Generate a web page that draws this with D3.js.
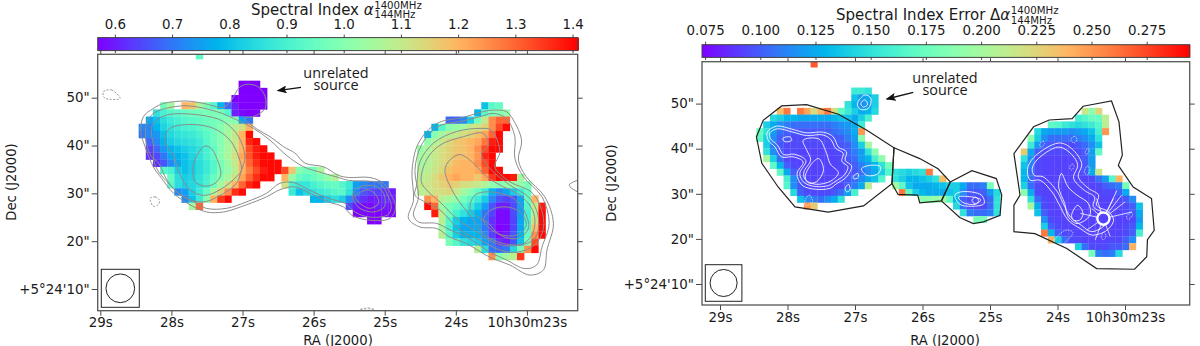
<!DOCTYPE html>
<html>
<head>
<meta charset="utf-8">
<script src="https://cdn.jsdelivr.net/npm/d3@7"></script>
<style>
  html, body { margin: 0; background: #fff; }
  svg { display: block; }
  text { font-family: "DejaVu Sans", sans-serif; fill: #1a1a1a; }
</style>
</head>
<body>
<div id="vis"></div>
<script>
const FRAME_WIDTH = 1200;
const FRAME_HEIGHT = 346;

// map grid: one pixel is 1.5" on the sky, rows are [row, first column, values]
const RA_ORIGIN = 29.063;
const DEC_ORIGIN = 59.56;
const RA_STEP = 0.1004;
const DEC_STEP = 1.5;
const BEAM_ARCSEC = 6;

const RA_TICKS = [29, 28, 27, 26, 25, 24, 23];
const DEC_TICKS = [10, 20, 30, 40, 50];
const INDEX_TICKS = [0.6, 0.7, 0.8, 0.9, 1.0, 1.1, 1.2, 1.3, 1.4];
const ERROR_TICKS = [0.075, 0.1, 0.125, 0.15, 0.175, 0.2, 0.225, 0.25, 0.275];
const INDEX_RANGE = [0.57, 1.409];
const ERROR_RANGE = [0.0736, 0.2945];

const indexRows = [
  [0, 14, [.93]],
  [4, 20, [.57, .57, .57]],
  [5, 20, [.57, .57, .57, .57]],
  [6, 19, [.57, .57, .57, .57, .57]],
  [7, 9, [.97, 1.05, null, 1.2, 1.18, 1.07, .98, .92, .78, .68, .6, .57, .57, .57, .57]],
  [8, 8, [.86, .9, .92, .93, .95, .96, .97, .98, .98, .98, .92, .6, .58, .57, .57]],
  [9, 7, [.76, .8, .85, .88, .9, .92, .93, .94, .96, .97, .98, 1.0, 1.0, .75, .7]],
  [10, 6, [.72, .72, .78, .83, .86, .88, .9, .91, .93, .95, .97, 1.0, 1.04, 1.08, 1.12, 1.2]],
  [11, 6, [.7, .72, .74, .8, .84, .86, .87, .88, .9, .93, .96, 1.0, 1.05, 1.1, 1.2, 1.4]],
  [12, 7, [.68, .72, .78, .82, .84, .85, .86, .88, .92, .96, 1.0, 1.05, 1.1, 1.2, 1.37, 1.4]],
  [13, 7, [.64, .68, .74, .78, .8, .82, .84, .86, .9, .94, 1.0, 1.05, 1.1, 1.2, 1.33, 1.38, 1.4]],
  [14, 7, [.62, .65, .7, .76, .78, .8, .83, .86, .9, .94, 1.0, 1.06, 1.12, 1.22, 1.32, 1.38, 1.4, 1.4]],
  [15, 8, [.62, .66, .72, .76, .8, .82, .85, .88, .92, .98, 1.03, 1.1, 1.2, 1.3, 1.36, 1.4, 1.4, 1.4]],
  [16, 9, [.92, .9, .82, .8, .82, .85, .88, .92, .98, 1.02, 1.08, 1.2, 1.27, 1.33, 1.38, 1.4, 1.4, 1.33, 1.17, 1.0, .97, .97, 1.06]],
  [17, 10, [.95, .85, .82, .83, .86, .9, .95, 1.0, 1.05, 1.12, 1.22, 1.3, 1.36, 1.4, 1.4, null, 1.2, 1.03, .95, .93, .95, .98, 1.02, 1.07]],
  [18, 10, [.93, .85, .82, .84, .86, .9, .96, 1.05, 1.12, 1.2, 1.3, 1.37, 1.4]],
  [18, 26, [1.12, .9, .87, .87, .9, .92, .94, .95, .92, .88, .75, .72, .7, .7, .7]],
  [19, 11, [.72, .75, .82, .88, .95, 1.05, 1.15, 1.25, 1.36, 1.4]],
  [19, 27, [.88, .8, .84, .86, .88, .9, .92, .93, .86, .72, .66, .64, .64, .62, .6]],
  [20, 12, [.72, .8, .88, 1.0, 1.2, 1.35, 1.4]],
  [20, 30, [.78, .78, .82, .85, .82, .72, .65, .62, .6, .6, .62, .6]],
  [21, 13, [1.05, 1.3]],
  [21, 35, [.65, .6, .58, .58, .6, .6, .58]],
  [22, 36, [.57, .58, .57, .57, .58, .57]],
  [23, 38, [.57, .57]],
  [7, 54, [.8, .93, .95]],
  [8, 53, [.78, .93, .98, 1.0, 1.02]],
  [9, 49, [.68, .68, .72, .82, .97, 1.1, 1.25, 1.3, 1.3]],
  [10, 47, [.78, .92, 1.0, 1.03, 1.05, 1.1, 1.12, 1.15, 1.25, 1.33, 1.4]],
  [11, 46, [.78, 1.0, 1.05, 1.08, 1.1, 1.13, 1.15, 1.18, 1.22, 1.3, 1.4]],
  [12, 46, [1.02, 1.06, 1.1, 1.14, 1.17, 1.18, 1.2, 1.22, 1.28, 1.38, 1.4]],
  [13, 45, [1.03, 1.06, 1.1, 1.13, 1.15, 1.17, 1.18, 1.2, 1.25, 1.33, 1.4, 1.4]],
  [14, 45, [1.05, 1.07, 1.1, 1.13, 1.15, 1.18, 1.18, 1.2, 1.24, 1.37, 1.4]],
  [15, 45, [1.05, 1.07, 1.1, 1.13, 1.16, 1.19, 1.2, 1.2, 1.25, 1.33, 1.4]],
  [16, 45, [1.07, 1.08, 1.11, 1.14, 1.18, 1.2, 1.2, 1.2, 1.22, 1.3, 1.4, 1.4]],
  [17, 45, [1.08, 1.1, 1.13, 1.17, 1.2, 1.22, 1.2, 1.2, 1.17, 1.22, 1.35, 1.4, 1.4, 1.38, 1.05]],
  [18, 45, [1.1, 1.11, 1.13, 1.15, 1.17, 1.15, 1.13, 1.12, 1.1, 1.07, 1.02, 1.0, 1.02, 1.03, 1.02, .98]],
  [19, 45, [1.08, 1.1, 1.12, 1.13, 1.14, 1.1, 1.05, 1.0, .95, .88, .78, .72, .76, .82, .88, .95]],
  [20, 46, [1.25, 1.2, 1.08, 1.05, 1.02, .98, .93, .88, .82, .72, .66, .64, .66, .76, .95, 1.2]],
  [21, 46, [1.4, 1.3, 1.03, .98, .95, .92, .88, .82, .75, .66, .6, .6, .65, .75, .92, 1.1, 1.38]],
  [22, 47, [1.38, 1.08, .97, .9, .86, .82, .78, .7, .64, .58, .58, .65, .75, .9, 1.08, 1.4]],
  [23, 48, [1.08, .92, .82, .78, .76, .76, .7, .62, .58, .58, .64, .76, .9, 1.12, 1.4]],
  [24, 48, [1.05, .9, .8, .76, .76, .76, .7, .62, .57, .58, .64, .76, .92, 1.18, 1.4]],
  [25, 48, [1.08, .92, .82, .78, .78, .78, .72, .64, .58, .6, .66, .78, .95, 1.25, 1.4]],
  [26, 49, [.98, .92, .86, .84, .82, .75, .7, .62, .6, .66, .8, .98, 1.33]],
  [27, 53, [1.08, .85, .7, .68, .7, .84, .98, 1.25, 1.4]],
  [28, 55, [1.25, 1.0, 1.05, 1.08, 1.35]]
];

const errorRows = [
  [0, 14, [.27]],
  [4, 20, [.155, .155, .15]],
  [5, 20, [.135, .12, .125, .14]],
  [6, 19, [.15, .13, .115, .12, .14]],
  [7, 9, [.235, .26, null, .26, .245, .22, .24, .26, .22, .17, .155, .14, .125, .13, .145]],
  [8, 8, [.145, .14, .13, .13, .125, .125, .125, .125, .125, .13, .135, .135, .125, .14, .16]],
  [9, 7, [.14, .125, .115, .11, .105, .105, .105, .105, .105, .105, .11, .115, .12, .125, .155]],
  [10, 6, [.175, .15, .12, .105, .1, .098, .098, .098, .098, .098, .1, .105, .11, .115, .125, .25]],
  [11, 6, [.17, .14, .115, .1, .098, .094, .094, .094, .094, .094, .094, .098, .1, .11, .12, .19]],
  [12, 7, [.14, .11, .098, .094, .094, .094, .094, .094, .094, .094, .094, .098, .1, .115, .14, .2]],
  [13, 7, [.15, .115, .098, .094, .094, .092, .092, .092, .092, .092, .094, .094, .1, .11, .12, .15, .19]],
  [14, 7, [.2, .14, .105, .094, .092, .092, .092, .092, .092, .092, .092, .094, .098, .105, .12, .13, .16, .19]],
  [15, 8, [.17, .13, .1, .094, .092, .092, .092, .092, .092, .092, .094, .094, .1, .11, .12, .13, .15, .18]],
  [16, 9, [.17, .125, .1, .094, .092, .092, .092, .092, .092, .092, .094, .098, .105, .115, .125, .14, .165, .15, .145, .14, .145, .15, .26]],
  [17, 10, [.16, .115, .098, .094, .092, .092, .092, .092, .094, .098, .105, .115, .125, .135, .165, null, .15, .14, .13, .13, .135, .14, .15, .235]],
  [18, 10, [.165, .115, .098, .094, .092, .092, .092, .094, .094, .1, .11, .125, .21]],
  [18, 26, [.2, .17, .135, .125, .125, .125, .13, .135, .14, .14, .125, .105, .105, .11, .18]],
  [19, 11, [.145, .1, .094, .094, .094, .094, .098, .105, .12, .16]],
  [19, 27, [.26, .17, .14, .13, .125, .125, .125, .135, .14, .115, .098, .098, .1, .12, .145]],
  [20, 12, [.135, .115, .11, .105, .115, .125, .15]],
  [20, 30, [.19, .19, .195, .2, .17, .13, .1, .094, .094, .094, .105, .15]],
  [21, 13, [.25, .23]],
  [21, 35, [.145, .105, .094, .094, .094, .105, .15]],
  [22, 36, [.15, .11, .105, .105, .11, .15]],
  [23, 38, [.18, .18]],
  [7, 54, [.215, .19, .225]],
  [8, 53, [.16, .165, .175, .175, .21]],
  [9, 49, [.17, .165, .155, .15, .145, .15, .155, .165, .21]],
  [10, 47, [.145, .125, .12, .12, .12, .115, .12, .125, .135, .16, .25]],
  [11, 46, [.19, .14, .115, .105, .105, .105, .105, .11, .115, .125, .15]],
  [12, 46, [.155, .12, .1, .098, .094, .094, .094, .098, .105, .115, .135]],
  [13, 45, [.23, .125, .1, .094, .094, .094, .094, .094, .094, .1, .12, .17]],
  [14, 45, [.15, .115, .094, .092, .092, .092, .092, .092, .094, .1, .12]],
  [15, 45, [.135, .11, .094, .092, .092, .092, .092, .092, .092, .098, .12]],
  [16, 45, [.13, .105, .094, .092, .092, .092, .092, .092, .092, .098, .125, .215]],
  [17, 45, [.13, .105, .094, .092, .092, .092, .092, .092, .092, .092, .094, .105, .12, .165, .24]],
  [18, 45, [.14, .105, .094, .092, .092, .092, .092, .092, .092, .092, .092, .094, .1, .105, .11, .18]],
  [19, 45, [.19, .125, .094, .092, .092, .092, .092, .092, .092, .092, .092, .092, .094, .094, .1, .125]],
  [20, 46, [.15, .105, .094, .092, .092, .092, .092, .092, .092, .092, .092, .092, .092, .094, .098, .115]],
  [21, 46, [.2, .125, .094, .092, .092, .092, .092, .092, .092, .092, .092, .092, .092, .092, .094, .1, .135]],
  [22, 47, [.135, .1, .092, .092, .092, .092, .092, .092, .092, .092, .092, .092, .092, .094, .098, .125]],
  [23, 48, [.115, .094, .092, .092, .092, .092, .092, .092, .092, .092, .092, .092, .092, .094, .12]],
  [24, 48, [.14, .1, .094, .092, .092, .092, .092, .092, .092, .092, .092, .092, .094, .098, .13]],
  [25, 48, [.26, .13, .1, .094, .094, .092, .092, .092, .092, .092, .092, .092, .094, .1, .16]],
  [26, 49, [.24, .14, .105, .094, .094, .092, .092, .092, .092, .094, .094, .1, .115]],
  [27, 53, [.14, .105, .094, .094, .094, .098, .098, .105, .24]],
  [28, 55, [.18, .11, .105, .11, .145]]
];

// contours, given as [column, row] on the same map grid
const grayContours = [
  [[8.05,7.87],[6.66,9.03],[6.3,11.12],[6.9,13.2],[8.05,16],[9.2,17.6],[10.9,19.7],[13.2,21.3],[15.5,22.3],[17.9,22.3],[21.1,21.3],[23.9,20.2],[25.8,19.2],[27.9,18.8],[30,19.7],[32.6,20.9],[34.7,21.6],[35.8,22.7],[37.9,23.4],[41.2,23.2],[42,21.6],[41.4,20],[40.3,18.3],[38.4,17.5],[35.4,17.5],[34,17.2],[31.9,16],[29.3,15.5],[27.9,14.1],[26.3,13.2],[24.4,11.8],[22.5,10.7],[20.9,9.26],[22.1,9],[23.7,7.9],[23.7,6.2],[22.8,4.9],[21.4,4.5],[20.2,4.85],[19,6.7],[17.9,7.7],[15.1,7.17],[12.7,6.84],[9.5,7.17]],
  [[7.1,10],[7.8,8.8],[9,8.1],[12.7,7.5],[16.9,8.3],[19.3,9.26],[22.1,10.65],[24.4,12.3],[26.7,14.4],[29.1,16],[31.9,16.9],[34,17.5],[35.4,17.9],[38.2,18],[39.8,18.3],[40.9,20],[41.4,21.6],[40.9,22.7],[38.2,23],[36.3,22.3],[34.9,21.1],[32.6,20.4],[30,19.3],[27.7,18.2],[25.8,18.3],[23.9,19.7],[21.1,20.9],[18.3,21.8],[15.5,21.8],[13.7,20.9],[11.3,19.5],[9.7,17.4],[8.8,15.5],[7.8,14.6],[7,12.3]],
  [[7.8,11.35],[8,10],[9.9,8.8],[14.6,8.8],[17.9,9.7],[20,11.8],[20.9,14.6],[20.4,16.5],[19.7,18.3],[17.9,19.7],[15.1,20.9],[12.3,20.2],[10.2,18.3],[8.8,16.7],[8.1,15.1],[8.1,13.2]],
  [[9.7,11.8],[10.4,10.65],[13.2,10.1],[16.5,10.65],[18.8,12.3],[20,14.6],[20.4,16.5],[19.7,17.4],[17.4,19.2],[15.1,20],[13.2,19.2],[11.6,16.7],[10.9,14.4],[9.9,13]],
  [[13.66,15.75],[14.35,14.1],[15.3,13.1],[16.2,13.5],[17.2,15.5],[17.5,17.15],[16.7,18.3],[15.3,18.7],[13.9,18.1],[13.6,16.9]],
  [[36.1,19.5],[37,18.8],[39.1,18.7],[40.3,19.7],[40.4,21.6],[38.9,22.3],[37,21.8],[36.1,20.65]],
  [[36.8,19.7],[38.2,19.2],[39.3,20],[39.6,21.1],[38.4,21.8],[37,21.1],[36.3,20.2]],
  [[55.7,8.1],[57.5,8.3],[58.5,9.5],[59.65,12.3],[59.2,15.07],[60.3,17.4],[62.9,20.2],[64.1,23.9],[63.2,27.6],[62.7,30.4],[60.8,31.1],[58,29.7],[55.2,28.6],[51.9,26.7],[49.6,25.8],[47.75,24.6],[45.4,24.4],[43.8,23.2],[44.5,20.65],[44.3,16.5],[45.2,12.7],[47.7,10],[51.5,9.1],[54.3,8.3]],
  [[55.7,8.56],[57.5,9.26],[58.7,11.8],[58.7,14.8],[59.9,17.4],[62.5,20.2],[63.5,23.9],[62.5,27.2],[61.75,29.7],[60.1,30.2],[57.55,29],[55.2,27.9],[51.95,25.8],[49.6,24.8],[47.75,23.9],[45.2,23.7],[44.5,22.7],[45.2,20.2],[44.7,16.5],[45.6,13],[47.97,10.4],[51.5,9.6],[53.8,9.02]],
  [[44.95,18.56],[45.4,15.3],[47.3,12.7],[50.5,11.1],[53.8,10.65],[55.4,10.9],[56.6,13.9],[55.9,16],[58,18.1],[61,19.5],[62.4,21.8],[62.7,24.6],[61.5,26.9],[59,27.9],[56.6,27.6],[53.8,26.2],[51,24.8],[48.2,22],[46.1,20.9],[44.7,19.95]],
  [[45.6,18.1],[46.3,15.07],[48.2,13],[51.5,11.8],[54.3,11.35],[55,13],[54.05,14.1],[55,16],[58,18.56],[60.8,20.4],[62,23.2],[61.5,26],[59,27],[56.1,26.7],[53.35,25.07],[50.55,23.2],[48.2,20.9],[46.6,19.5]],
  [[48.9,16.47],[49.6,15.07],[51,14.3],[52.9,15.5],[54.75,17.4],[57.1,18.8],[59.4,19.95],[61.3,22.3],[61.3,25.07],[59.9,26.7],[57.1,26.7],[54.5,25.5],[52.4,22.74],[50.3,19.95]],
  [[52.4,21.8],[53.1,19.95],[55.2,19.5],[58.5,20.4],[60.1,22.3],[60.6,24.6],[59,26],[56.6,25.5],[55,23.9],[53.1,22.74]],
  [[54.3,23.4],[55.4,22],[57.5,21.6],[59.4,22.3],[60.3,24.1],[59,25.5],[56.85,25.5],[55.2,24.6]],
  [[66.3,18.56],[68.5,17.8],[68.5,19.8]]
];

const grayDashed = [
  [[1.05,5.54],[2.2,5.3],[3.4,6.47],[2,6.6],[1.15,6.33]],
  [[7.6,20.4],[8.3,20.2],[8.9,20.64],[8.76,21.3],[8.06,21.5],[7.7,20.9]],
  [[37,35.9],[38.2,35.7],[39,35.9],[38.2,36]]
];

const regionOutlines = [
  [[9.73,6.72],[13.4,6.52],[18.1,7.95],[22.3,10.3],[26.3,12.9],[26,18.2],[21.8,21.5],[16.6,22.4],[11.7,21.65],[9.2,18.7],[6.8,15.2],[6,11.3],[7,8.84]],
  [[26.3,12.9],[30.1,14.5],[32.8,16],[34.6,17.95],[33.3,20.76],[30.1,21.05],[29.8,19.9],[26.9,19.8],[26,18.2]],
  [[34.6,17.95],[37.8,16.3],[41.4,17.46],[42.2,19.9],[41.95,22.9],[39.5,23.86],[38,24.1],[36,23.2],[33.3,20.76]],
  [[54.2,6.77],[58.4,5.98],[59.5,9.08],[60,14],[59.4,15.5],[61.6,18.7],[64.3,20.4],[64.7,25.1],[63.7,26.5],[63.6,29],[61.8,30.86],[56.2,30.76],[51.8,27.8],[47.1,25.6],[44,25.3],[44,21.4],[44.9,19.9],[44,13.76],[46.9,9.8],[49.2,8.8],[52.6,8.6]]
];

const whiteContours = [
  [[7.6,10.6],[9,9.7],[11.4,10.2],[13.4,10.7],[15.9,10.6],[17.35,11.3],[18.1,12.8],[19.3,13.5],[19.1,14.75],[20.05,15.6],[19.3,17.2],[17.85,18.2],[16.85,18.9],[14.4,19],[12.7,18.4],[12,16.7],[12.9,15],[11.45,14.25],[9.7,14.25],[8.75,12.8],[7.75,11.8]],
  [[8,10.7],[9.1,10.1],[11.4,10.6],[13.4,11.1],[15.8,11],[17,11.7],[17.7,13],[18.8,13.7],[18.6,14.9],[19.5,15.7],[19,16.9],[17.6,17.9],[16.6,18.5],[14.5,18.6],[13,18],[12.4,16.7],[13.3,14.8],[11.6,13.85],[10,13.9],[9.1,12.5],[8.1,11.6]],
  [[12.9,11.8],[15.2,11.6],[16.2,13.3],[16.9,15.3],[18.1,16.6],[17,17.8],[14.8,18.3],[13.2,17.6],[13,16.5],[14,14.7],[13.4,13.2]],
  [[13.2,17.2],[14.2,15.2],[15.2,14.5],[15.9,16.2],[14.9,17.9],[13.7,18.1]],
  [[9.9,11.5],[11,11.3],[11.2,11.8],[10.2,12]],
  [[21.5,16],[22.8,15.5],[24.3,15.7],[24,16.7],[22.3,17]],
  [[20.3,17.1],[21,16.7],[21,17.3],[20.4,17.5]],
  [[19.1,18.9],[19.6,18.3],[19.8,19.2],[19.3,19.4]],
  [[20.9,6.4],[22,5.1],[22.9,5.6],[22.5,7.1],[21.3,7.2]],
  [[21.4,6.4],[22,5.8],[22.4,6.5],[21.8,6.9]],
  [[35.3,19.9],[36.3,19.4],[39.2,19.9],[39.6,21.15],[37.8,21.55],[36,21.25]],
  [[35.8,20.2],[38,20.2],[39.1,20.6],[38.3,21.25],[36.5,21]],
  [[37.8,20.7],[38.3,20.2],[38.8,20.7],[38.3,21.2]],
  [[46,16.1],[46.9,14.35],[50.6,12.2],[52.5,13],[54,15.25],[53.5,17.2],[55,18.9],[56.5,19.9],[56.2,21.4],[58,22.4],[58.7,23.6],[57.7,25.1],[55.5,25.8],[53.8,24.85],[52,23.6],[50.6,21.15],[49.8,19.7],[47.85,17.7],[46.4,17.7]],
  [[46.7,16],[47.4,14.7],[50.5,12.8],[52.1,13.5],[53.4,15.4],[52.8,17.4],[54.4,19.2],[55.9,20.2],[55.7,21.6],[57.4,22.7],[57.8,23.8],[57,24.7],[55.4,25.3],[54,24.4],[52.4,23.2],[51.2,21],[50.4,19.4],[48.3,17.2],[47,17]],
  [[51,16.7],[52,18.7],[53.3,19.9],[55,21.15],[55.2,22.9],[53.3,24.1],[52,23.1],[51.5,21.15],[50.6,18.7]],
  [[52.5,22.9],[53.4,21.4],[54.2,22.6],[53.7,23.6],[52.8,23.6]]
];

const whiteDashed = [
  [[13.2,20.6],[13.8,19.9],[14.3,20.9],[13.2,21.4]],
  [[52.4,11.7],[52.9,11.2],[53.3,11.7],[52.8,12.2]],
  [[47.8,12.4],[48.3,11.9],[48.5,12.3],[48,12.8]],
  [[54.5,13.6],[54.9,13],[55.1,13.4],[54.7,13.9]],
  [[52.2,15.9],[52.6,15.3],[52.9,15.6],[52.5,16.2]],
  [[60.6,23.2],[61.3,22.4],[61.5,22.8],[60.9,23.5]],
  [[56.9,26.2],[57.2,25.4],[57.6,25.9],[57.2,26.5]],
  [[49.9,26.8],[51.6,25.1],[52.7,25.4],[51,27.2]],
  [[54.4,16.6],[54.8,15.6],[55.2,15.9],[54.9,16.9]]
];

const NUCLEUS = [57.2, 23.37];
const NUCLEUS_SIZE = 0.9;
const nucleusRays = [[59.2,19.2],[59.9,19.9],[56.2,20.4],[58.7,20.4],[55.5,21.9],[60.4,20.9],[61.4,22.4],[54.7,25.1],[58.2,26],[53.8,22.6],[56,26.5]];

const PANELS = [
  {
    rows: indexRows, domain: INDEX_RANGE, barTicks: INDEX_TICKS, barFormat: d3.format(".1f"),
    title: "Spectral Index ", symbol: ["", "\u03b1"], titleX: 251, titleY: 14.5, supY: 8.5, subY: 18,
    box: {left: 97.7, right: 577.7, top: 54.3, bottom: 310.7},
    bar: {top: 37.6, bottom: 50.6, labelY: 29},
    ra: [100.3, 526.9], dec: [289, 97.7],
    raLabelY: 327.5, raTitleY: 344.5, raTitleX: 338, decTitleX: 16, decTitleY: 182,
    beam: {x: 101.3, y: 269.3, size: 38},
    arrow: [301, 87.3, 277.7, 90.7],
    note: [{t: "unrelated", x: 336, y: 78}, {t: "source", x: 336, y: 90}]
  },
  {
    rows: errorRows, domain: ERROR_RANGE, barTicks: ERROR_TICKS, barFormat: d3.format(".3f"),
    title: "Spectral Index Error ", symbol: ["\u0394", "\u03b1"], titleX: 836, titleY: 20, supY: 13.5, subY: 24,
    box: {left: 702, right: 1189.7, top: 61.7, bottom: 305},
    bar: {top: 44.7, bottom: 57.4, labelY: 35},
    ra: [720, 1125], dec: [284, 103.6],
    raLabelY: 321.7, raTitleY: 344.5, raTitleX: 945, decTitleX: 616, decTitleY: 183,
    beam: {x: 705.3, y: 264.7, size: 36.6},
    arrow: [913.3, 92.3, 886.7, 99],
    note: [{t: "unrelated", x: 945, y: 83}, {t: "source", x: 945, y: 95}]
  }
];

// matplotlib "rainbow"
function rainbow(t) {
  const r = Math.min(1, Math.abs(2 * t - 0.5));
  const g = Math.sin(Math.PI * t);
  const b = Math.cos(Math.PI * t / 2);
  return d3.rgb(r * 255, g * 255, b * 255).formatHex();
}

const FRAME = d3.select("#vis")
  .append("svg")
    .attr("width", FRAME_WIDTH)
    .attr("height", FRAME_HEIGHT);

FRAME.append("defs").selectAll("marker")
  .data(["arrowHead"])
  .join("marker")
    .attr("id", d => d)
    .attr("viewBox", "0 0 10 8")
    .attr("refX", 9)
    .attr("refY", 4)
    .attr("markerUnits", "userSpaceOnUse")
    .attr("markerWidth", 10)
    .attr("markerHeight", 8)
    .attr("orient", "auto")
  .append("path")
    .attr("d", "M0,0L10,4L0,8L2,4Z")
    .attr("fill", "#111");

function styleAxis(g, size) {
  g.selectAll(".domain").remove();
  g.selectAll(".tick line").attr("stroke", "#333").attr("stroke-width", 0.9);
  g.selectAll(".tick text")
    .attr("fill", "#1a1a1a")
    .style("font-size", size + "px")
    .style("font-family", '"DejaVu Sans", sans-serif');
}

function drawPanel(p, i) {
  const raScale = d3.scaleLinear().domain([29, 23]).range(p.ra);
  const decScale = d3.scaleLinear().domain([10, 50]).range(p.dec);
  const colX = c => raScale(RA_ORIGIN - RA_STEP * c);
  const rowY = r => decScale(DEC_ORIGIN - DEC_STEP * r);
  const color = d3.scaleSequential(rainbow).domain(p.domain);
  const box = p.box;

  const clipId = "clip" + i;
  FRAME.select("defs").append("clipPath")
      .attr("id", clipId)
    .append("rect")
      .attr("x", box.left)
      .attr("y", box.top)
      .attr("width", box.right - box.left)
      .attr("height", box.bottom - box.top);

  const map = FRAME.append("g").attr("clip-path", `url(#${clipId})`);

  // spectral map cells
  const cells = p.rows.flatMap(([r, c0, vals]) =>
    vals.map((v, k) => ({r: r, c: c0 + k, v: v})).filter(d => d.v !== null));
  map.append("g").selectAll("rect")
    .data(cells)
    .join("rect")
      .attr("x", d => colX(d.c))
      .attr("y", d => rowY(d.r))
      .attr("width", d => colX(d.c + 1) - colX(d.c) + 0.25)
      .attr("height", d => rowY(d.r + 1) - rowY(d.r) + 0.25)
      .attr("fill", d => color(d.v));

  const closed = d3.line().x(d => colX(d[0])).y(d => rowY(d[1])).curve(d3.curveCatmullRomClosed.alpha(0.5));
  const straight = d3.line().x(d => colX(d[0])).y(d => rowY(d[1])).curve(d3.curveLinearClosed);

  if (i === 0) {
    map.append("g").selectAll("path")
      .data(grayContours)
      .join("path")
        .attr("d", closed)
        .attr("fill", "none")
        .attr("stroke", "#8c8c8c")
        .attr("stroke-width", 1);
    map.append("g").selectAll("path")
      .data(grayDashed)
      .join("path")
        .attr("d", closed)
        .attr("fill", "none")
        .attr("stroke", "#8c8c8c")
        .attr("stroke-width", 0.9)
        .attr("stroke-dasharray", "2,1.5");
  } else {
    map.append("g").selectAll("path")
      .data(whiteContours)
      .join("path")
        .attr("d", closed)
        .attr("fill", "none")
        .attr("stroke", "#fff")
        .attr("stroke-opacity", 0.95)
        .attr("stroke-width", 0.9);
    map.append("g").selectAll("path")
      .data(whiteDashed)
      .join("path")
        .attr("d", closed)
        .attr("fill", "none")
        .attr("stroke", "#fff")
        .attr("stroke-opacity", 0.9)
        .attr("stroke-width", 0.7)
        .attr("stroke-dasharray", "1.5,1");
    map.append("g").selectAll("line")
      .data(nucleusRays)
      .join("line")
        .attr("x1", colX(NUCLEUS[0]))
        .attr("y1", rowY(NUCLEUS[1]))
        .attr("x2", d => colX(d[0]))
        .attr("y2", d => rowY(d[1]))
        .attr("stroke", "#fff")
        .attr("stroke-opacity", 0.85)
        .attr("stroke-width", 0.9);
    map.append("circle")
      .attr("cx", colX(NUCLEUS[0]))
      .attr("cy", rowY(NUCLEUS[1]))
      .attr("r", colX(NUCLEUS[0] + NUCLEUS_SIZE) - colX(NUCLEUS[0]))
      .attr("fill", color(0.092))
      .attr("stroke", "#fff")
      .attr("stroke-width", 2.4);
    map.append("g").selectAll("path")
      .data(regionOutlines)
      .join("path")
        .attr("d", straight)
        .attr("fill", "none")
        .attr("stroke", "#222")
        .attr("stroke-width", 1.2);
  }

  // axes, outward on all four sides
  const raFormat = d => d === 23 ? "10h30m23s" : d + "s";
  const decFormat = d => d === 10 ? `+5\u00b024'10"` : d + '"';

  FRAME.append("g")
    .attr("transform", `translate(0,${box.bottom})`)
    .call(d3.axisBottom(raScale).tickValues(RA_TICKS).tickFormat(raFormat).tickSize(5).tickPadding(4))
    .call(styleAxis, 13.4)
    .call(g => g.selectAll(".tick text").attr("dy", null).attr("y", p.raLabelY - box.bottom));

  FRAME.append("g")
    .attr("transform", `translate(0,${box.top})`)
    .call(d3.axisTop(raScale).tickValues(RA_TICKS).tickFormat("").tickSize(3.5))
    .call(styleAxis, 13.4);

  FRAME.append("g")
    .attr("transform", `translate(${box.left},0)`)
    .call(d3.axisLeft(decScale).tickValues(DEC_TICKS).tickFormat(decFormat).tickSize(6).tickPadding(2))
    .call(styleAxis, 13.4);

  FRAME.append("g")
    .attr("transform", `translate(${box.right},0)`)
    .call(d3.axisRight(decScale).tickValues(DEC_TICKS).tickFormat("").tickSize(5))
    .call(styleAxis, 13.4);

  FRAME.append("rect")
    .attr("x", box.left)
    .attr("y", box.top)
    .attr("width", box.right - box.left)
    .attr("height", box.bottom - box.top)
    .attr("fill", "none")
    .attr("stroke", "#555")
    .attr("stroke-width", 1.3);

  // beam
  const beamR = (decScale(0) - decScale(BEAM_ARCSEC)) / 2;
  FRAME.append("rect")
    .attr("x", p.beam.x)
    .attr("y", p.beam.y)
    .attr("width", p.beam.size)
    .attr("height", p.beam.size)
    .attr("fill", "none")
    .attr("stroke", "#222")
    .attr("stroke-width", 1);
  FRAME.append("circle")
    .attr("cx", p.beam.x + p.beam.size / 2)
    .attr("cy", p.beam.y + p.beam.size / 2)
    .attr("r", beamR)
    .attr("fill", "none")
    .attr("stroke", "#222")
    .attr("stroke-width", 1);

  // colour bar
  const barScale = d3.scaleLinear().domain(p.domain).range([box.left, box.right]);
  const steps = d3.range(0, box.right - box.left);
  FRAME.append("g").selectAll("rect")
    .data(steps)
    .join("rect")
      .attr("x", d => box.left + d)
      .attr("y", p.bar.top)
      .attr("width", 1.3)
      .attr("height", p.bar.bottom - p.bar.top)
      .attr("fill", d => color(barScale.invert(box.left + d + 0.5)));
  FRAME.append("rect")
    .attr("x", box.left)
    .attr("y", p.bar.top)
    .attr("width", box.right - box.left)
    .attr("height", p.bar.bottom - p.bar.top)
    .attr("fill", "none")
    .attr("stroke", "#444")
    .attr("stroke-width", 1);
  FRAME.append("g")
    .attr("transform", `translate(0,${p.bar.top})`)
    .call(d3.axisTop(barScale).tickValues(p.barTicks).tickFormat(p.barFormat).tickSize(3))
    .call(styleAxis, 13.4)
    .call(g => g.selectAll(".tick text").attr("y", p.bar.labelY - p.bar.top).attr("dy", null));
  FRAME.append("g")
    .attr("transform", `translate(0,${p.bar.bottom})`)
    .call(d3.axisBottom(barScale).tickValues(p.barTicks).tickFormat("").tickSize(2.5))
    .call(styleAxis, 13.4);

  // title with stacked frequencies after the symbol
  const title = FRAME.append("text")
    .attr("x", p.titleX)
    .attr("y", p.titleY)
    .style("font-size", "15px")
    .text(p.title + p.symbol[0]);
  title.append("tspan").style("font-style", "italic").text(p.symbol[1]);
  const endX = p.titleX + title.node().getComputedTextLength() + 0.5;
  FRAME.append("text")
    .attr("x", endX)
    .attr("y", p.supY)
    .style("font-size", "10.2px")
    .text("1400MHz");
  FRAME.append("text")
    .attr("x", endX)
    .attr("y", p.subY)
    .style("font-size", "10.2px")
    .text("144MHz");

  // axis titles
  FRAME.append("text")
    .attr("x", p.raTitleX)
    .attr("y", p.raTitleY)
    .attr("text-anchor", "middle")
    .style("font-size", "13.2px")
    .text("RA (J2000)");
  FRAME.append("text")
    .attr("transform", `translate(${p.decTitleX},${p.decTitleY}) rotate(-90)`)
    .attr("text-anchor", "middle")
    .style("font-size", "13.2px")
    .text("Dec (J2000)");

  // annotation
  FRAME.append("line")
    .attr("x1", p.arrow[0])
    .attr("y1", p.arrow[1])
    .attr("x2", p.arrow[2])
    .attr("y2", p.arrow[3])
    .attr("stroke", "#111")
    .attr("stroke-width", 1.3)
    .attr("marker-end", "url(#arrowHead)");
  FRAME.append("g").selectAll("text")
    .data(p.note)
    .join("text")
      .attr("x", d => d.x)
      .attr("y", d => d.y)
      .attr("text-anchor", "middle")
      .style("font-family", '"Open Sans", sans-serif')
      .style("font-size", "14.4px")
      .text(d => d.t);
}

PANELS.forEach(drawPanel);
</script>
</body>
</html>
